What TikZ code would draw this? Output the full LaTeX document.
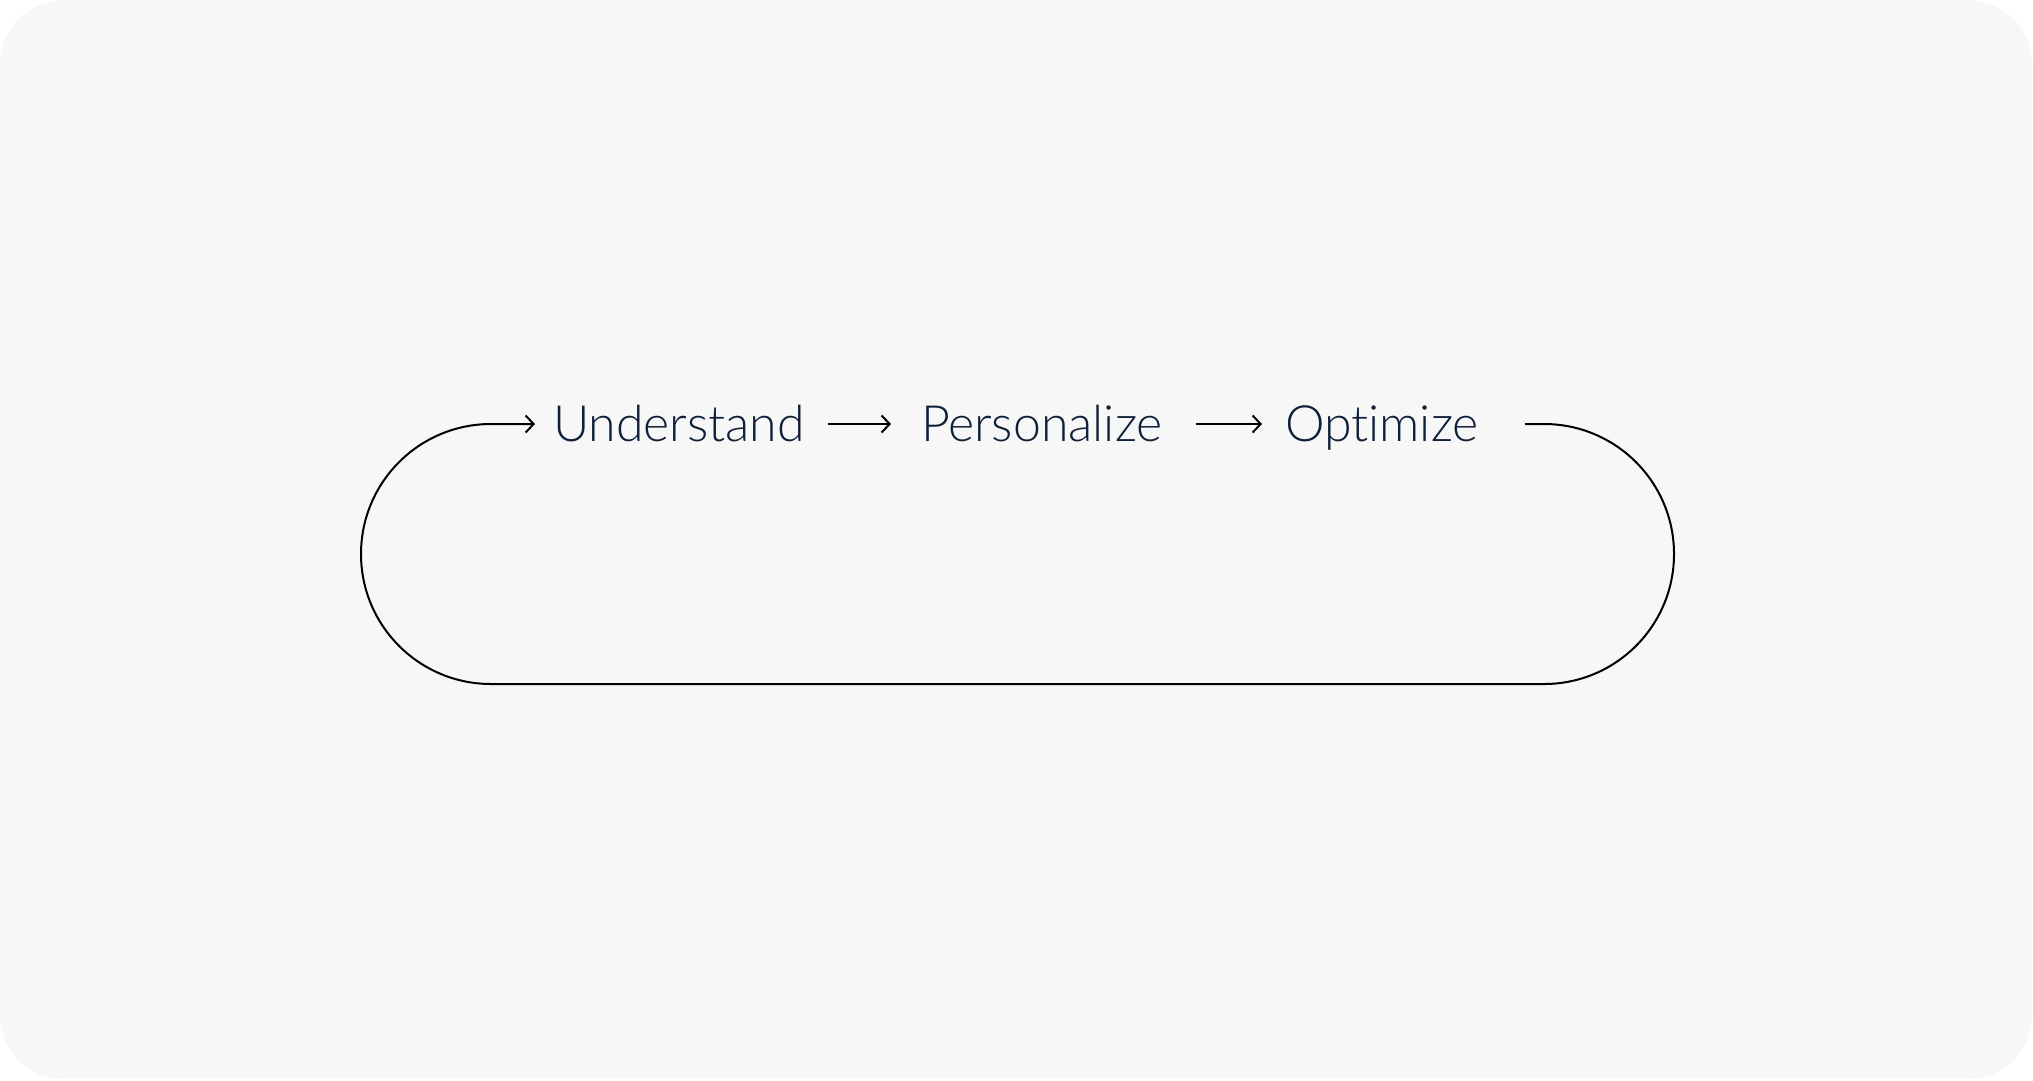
\documentclass[tikz,border=0pt]{standalone}
\usepackage{fontspec}
\setmainfont{Lato}[UprightFont=* Light, Ligatures={NoCommon,NoRare}]
\usetikzlibrary{arrows.meta}
\definecolor{fondo}{HTML}{F7F7F7}
\definecolor{tinta}{HTML}{0E1F38}
\begin{document}
\begin{tikzpicture}[   % opciones por defecto
  x=1pt, y=-1pt,     % un punto por pixel, y hacia abajo
  line width=2pt,
  draw=black,
  font=\fontsize{50}{60}\selectfont
]
  \tikzstyle{paso}=[text=tinta, inner sep=0pt, text height=35.8pt, text depth=0pt];
  \tikzstyle{flujo}=[draw, -{Straight Barb[length=8pt,width=17pt,line width=2pt]}];
  %
  % fondo con esquinas redondeadas
  \fill[fondo, rounded corners=64pt] (0,0) rectangle (2032,1079);
  \useasboundingbox (0,0) rectangle (2033,1080);
  %
  % pasos del ciclo
  \node [paso, anchor=west] (under) at (552,424) {Understand};
  \node [paso, anchor=west] (perso) at (920,424) {Personalize};
  \node [paso, anchor=west] (optim) at (1284,424) {Optimize};
  %
  % flechas entre pasos
  \draw[flujo, shorten <=22pt, shorten >=29pt] (under.east) -- (perso.west);
  \draw[flujo, shorten <=32pt, shorten >=22pt] (perso.east) -- (optim.west);
  %
  % vuelta al principio
  \coordinate (vuelta) at (1525,424);
  \draw[flujo, shorten >=17pt] (vuelta) -- ++(19,0)
    arc[start angle=-90, end angle=90, radius=130] -- ++(-1053,0)
    arc[start angle=90, end angle=270, radius=130] -- (under.west);
\end{tikzpicture}
\end{document}
